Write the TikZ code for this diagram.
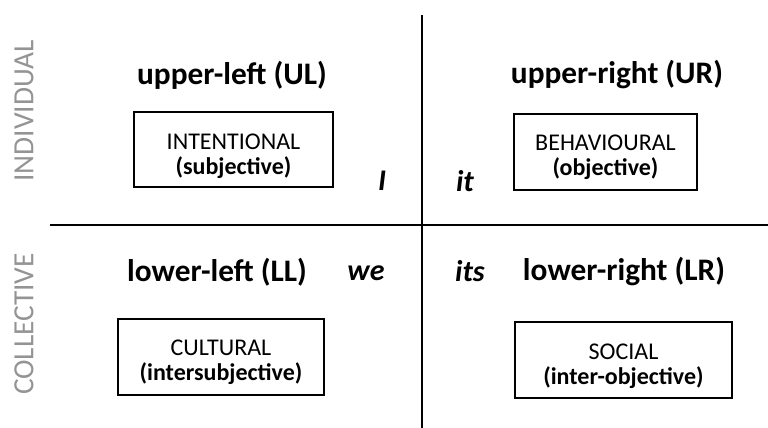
\documentclass[tikz,border=0pt]{standalone}
\usepackage{fontspec}
\setmainfont{Carlito}
\begin{document}
\begin{tikzpicture}[x=0.75pt,y=-0.75pt,
  axis/.style={line width=1.9pt},
  quadbox/.style={draw,line width=1.1pt,inner sep=0pt},
  boxtext/.style={align=center,inner sep=0pt,font=\fontsize{18}{18.5}\selectfont},
  heading/.style={font=\fontsize{23.5}{26}\selectfont\bfseries},
  pronoun/.style={font=\fontsize{22.5}{26}\selectfont\bfseries\itshape},
  sidelabel/.style={rotate=90,text=black!42,font=\fontsize{22}{26}\selectfont}]
\useasboundingbox (0,0) rectangle (768,428);
% axes
\coordinate (vtop) at (422,15);
\coordinate (vbot) at (422,428);
\coordinate (hleft) at (50,225);
\coordinate (hright) at (768,225);
\draw[axis] (vtop) -- (vbot);
\draw[axis] (hleft) -- (hright);
% side labels
\node[sidelabel] (indiv) at (24,111) {INDIVIDUAL};
\node[sidelabel] (coll) at (24,324) {COLLECTIVE};
% quadrant headings
\node[heading] (ul) at (232,75) {upper-left (UL)};
\node[heading] (ur) at (617,75) {upper-right (UR)};
\node[heading] (ll) at (217,272) {lower-left (LL)};
\node[heading] (lr) at (624,272) {lower-right (LR)};
% boxes: frame plus a two-line caption set slightly below centre
\node[quadbox,minimum width=199*0.75pt,minimum height=75*0.75pt] (intent) at (233.5,149.5) {};
\node[boxtext] (intentT) at (233.5,156) {INTENTIONAL\\\textbf{(subjective)}};
\node[quadbox,minimum width=183*0.75pt,minimum height=76*0.75pt] (behav) at (605.5,152) {};
\node[boxtext] (behavT) at (605.5,157) {BEHAVIOURAL\\\textbf{(objective)}};
\node[quadbox,minimum width=206*0.75pt,minimum height=76*0.75pt] (cult) at (221,357) {};
\node[boxtext] (cultT) at (221,362) {CULTURAL\\\textbf{(intersubjective)}};
\node[quadbox,minimum width=217*0.75pt,minimum height=76*0.75pt] (soc) at (623.5,360) {};
\node[boxtext] (socT) at (623.5,366) {SOCIAL\\\textbf{(inter-objective)}};
% pronouns
\node[pronoun] (pI) at (382,181) {I};
\node[pronoun] (pit) at (465,181) {it};
\node[pronoun] (pwe) at (366,273) {we};
\node[pronoun] (pits) at (470,271) {its};
\end{tikzpicture}
\end{document}
